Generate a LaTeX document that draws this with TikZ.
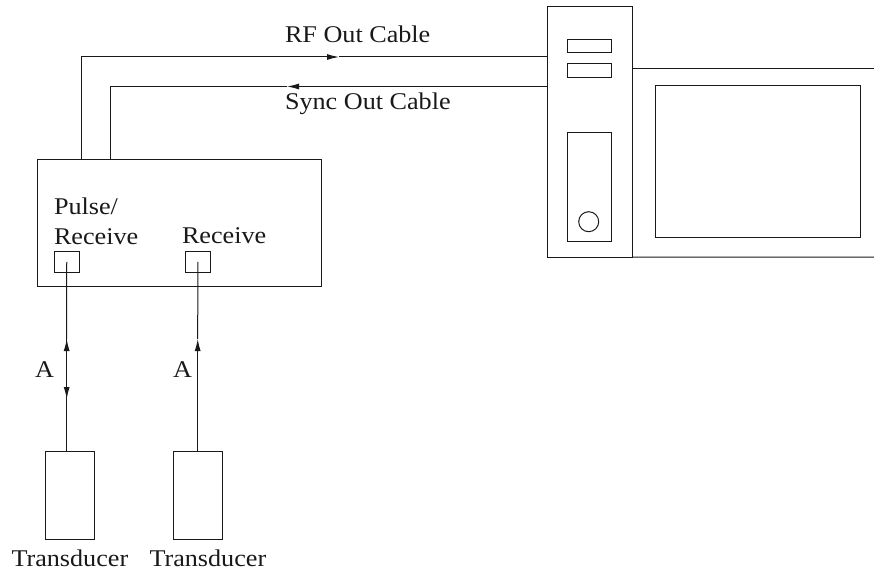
\documentclass[tikz,border=0pt]{standalone}
\usepackage{fontspec}
\setmainfont[FakeStretch=1.09]{Liberation Serif}
\usetikzlibrary{arrows.meta}
\tikzset{
  box/.style={draw,rectangle,inner sep=0pt,outer sep=0pt,anchor=north west},
  lbl/.style={inner sep=0pt,outer sep=0pt,anchor=base west,font=\fontsize{24}{24}\selectfont},
  tip/.style={-{Latex[length=12pt,width=6pt]}},
  every path/.style={line width=1pt,color=black!90}
}
\newcommand{\bx}[5]{\node[box,minimum width=#4pt-#2pt,minimum height=#5pt-#3pt] (#1) at (#2,#3) {};}
\begin{document}
\begin{tikzpicture}[x=1pt,y=-1pt]
\useasboundingbox (0,0) rectangle (874,572);
% pulser
\bx{pulser}{37}{160}{321}{286.5}
\bx{pone}{54.5}{251}{79}{272.5}
\bx{ptwo}{185.7}{251}{210}{272.5}
\node[lbl] (lpulse) at (54,214) {Pulse/};
\node[lbl] (lrecv) at (54,244) {Receive};
\node[lbl] (lrecvb) at (182,243.5) {Receive};
% transducers
\bx{tone}{45}{451}{94.3}{539.3}
\bx{ttwo}{173.3}{451}{222.7}{539.3}
\node[lbl] (ltone) at (11.5,566) {Transducer};
\node[lbl] (lttwo) at (149.5,566) {Transducer};
% computer
\bx{tower}{547}{6.7}{632.7}{257}
\bx{slotone}{567.3}{39.3}{611.7}{52.7}
\bx{slottwo}{567.3}{63.3}{611.7}{77.3}
\bx{drive}{567.3}{132.7}{611.7}{241.3}
\node[draw,circle,inner sep=0pt,outer sep=0pt,minimum size=20pt] (knob) at (588.7,221.7) {};
\bx{screen}{655.7}{85.3}{860.7}{237.3}
\coordinate (montop) at (874,68.3);
\coordinate (monbot) at (874,257);
\draw (tower.east |- montop) -- (montop);
\draw (tower.south east) -- (monbot);
% cables
\coordinate (rfup) at (81,160);
\coordinate (rfcorner) at (81,57);
\coordinate (rftip) at (339,57);
\coordinate (rfend) at (547,57);
\coordinate (syncup) at (110.7,160);
\coordinate (synccorner) at (110.7,86.5);
\coordinate (synctip) at (287,86.5);
\coordinate (syncend) at (547,86.5);
\draw[tip] (rfup) -- (rfcorner) -- (rftip);
\draw (rftip) -- (rfend);
\draw[tip] (syncend) -- (synctip);
\draw (synctip) -- (synccorner) -- (syncup);
\node[lbl] (lrf) at (285,43) {RF Out Cable};
\node[lbl] (lsync) at (285,110) {Sync Out Cable};
% transducer leads
\coordinate (aup) at (66.7,339);
\coordinate (adown) at (66.7,399);
\coordinate (bup) at (197.7,339);
\draw (pone.center) -- (aup);
\draw[tip] (tone.north -| aup) -- (aup);
\draw[tip] (aup) -- (adown);
\draw (ptwo.center) -- (bup);
\draw[tip] (ttwo.north -| bup) -- (bup);
\node[lbl] (la) at (35,377) {A};
\node[lbl] (lb) at (173,377) {A};
\end{tikzpicture}
\end{document}
